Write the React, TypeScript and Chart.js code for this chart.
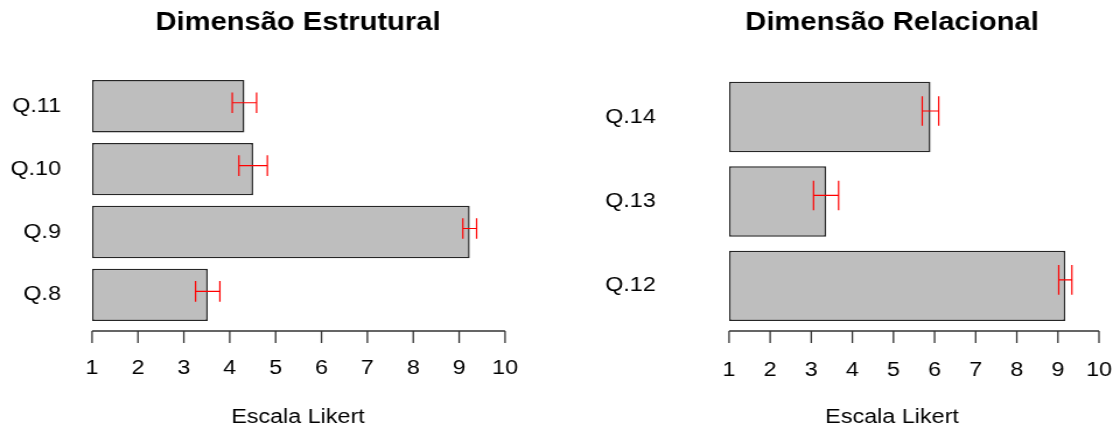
import React, { useEffect, useRef } from 'react';
import { Chart, registerables } from 'chart.js';

Chart.register(...registerables);

// ---- data ----
const XMIN = 1;
const XMAX = 10;
const xTickValues = [1, 2, 3, 4, 5, 6, 7, 8, 9, 10];
const axisTitle = 'Escala Likert';

const titleEstrutural = 'Dimensão Estrutural';
const catsEstrutural = ['Q.8', 'Q.9', 'Q.10', 'Q.11'];
const meansEstrutural = [3.52, 9.23, 4.51, 4.32];
const errEstrutural = [0.265, 0.15, 0.31, 0.265];

const titleRelacional = 'Dimensão Relacional';
const catsRelacional = ['Q.12', 'Q.13', 'Q.14'];
const meansRelacional = [9.18, 3.36, 5.9];
const errRelacional = [0.16, 0.305, 0.2];

// ---- layout (intrinsic canvas px; canvas is stretched horizontally by CSS) ----
const CW = 480;
const CH = 430;
const CSS_W = 560;
const FONT = '"Liberation Sans", Arial, Helvetica, sans-serif';

type Layout = {
  left: number; right: number; top: number; bottom: number;
  labelGap: number; titleX: number; axisY: number;
  capHalf: number; errOffset: number;
};

const layoutEstrutural: Layout = {
  left: 78.9, right: 432.9, top: 74.8, bottom: 326.3,
  labelGap: 26.6, titleX: 255.4, axisY: 331, capHalf: 10.3, errOffset: -3.5,
};
const layoutRelacional: Layout = {
  left: 144.9, right: 462, top: 72.5, bottom: 328.1,
  labelGap: 62.8, titleX: 284.6, axisY: 331, capHalf: 14.8, errOffset: -6,
};

function Panel(props: {
  title: string; cats: string[]; means: number[]; errs: number[]; layout: Layout;
}) {
  const ref = useRef<HTMLCanvasElement | null>(null);
  useEffect(() => {
    const canvas = ref.current;
    if (!canvas) return;
    const { title, cats, means, errs, layout: L } = props;

    const decor = {
      id: 'decor',
      afterDatasetsDraw(chart: any) {
        const ctx = chart.ctx as CanvasRenderingContext2D;
        const xs = chart.scales.x;
        const meta = chart.getDatasetMeta(0);
        ctx.save();
        // error bars
        ctx.strokeStyle = '#ff0000';
        ctx.lineWidth = 1.2;
        meta.data.forEach((bar: any, i: number) => {
          const y = bar.y + L.errOffset;
          const x0 = xs.getPixelForValue(means[i] - errs[i]);
          const x1 = xs.getPixelForValue(means[i] + errs[i]);
          ctx.beginPath();
          ctx.moveTo(x0, y);
          ctx.lineTo(x1, y);
          ctx.moveTo(x0, y - L.capHalf);
          ctx.lineTo(x0, y + L.capHalf);
          ctx.moveTo(x1, y - L.capHalf);
          ctx.lineTo(x1, y + L.capHalf);
          ctx.stroke();
        });
        // x axis line and ticks
        ctx.strokeStyle = '#333';
        ctx.lineWidth = 1.3;
        ctx.beginPath();
        ctx.moveTo(xs.getPixelForValue(XMIN), L.axisY);
        ctx.lineTo(xs.getPixelForValue(XMAX), L.axisY);
        xTickValues.forEach((t) => {
          const px = xs.getPixelForValue(t);
          ctx.moveTo(px, L.axisY);
          ctx.lineTo(px, L.axisY + 12);
        });
        ctx.stroke();
        // main title
        ctx.fillStyle = '#000';
        ctx.font = `bold 25px ${FONT}`;
        ctx.textAlign = 'center';
        ctx.textBaseline = 'alphabetic';
        ctx.fillText(title, L.titleX, 29.5);
        // x axis title
        ctx.font = `20px ${FONT}`;
        ctx.textBaseline = 'middle';
        ctx.fillText(axisTitle, L.titleX, 417);
        ctx.restore();
      },
    };

    const chart = new Chart(canvas, {
      type: 'bar',
      data: {
        labels: cats,
        datasets: [
          {
            data: means.map((m) => [XMIN, m]) as any,
            backgroundColor: '#bebebe',
            borderColor: '#262626',
            borderWidth: 1.5,
            borderSkipped: false,
            categoryPercentage: 1,
            barPercentage: 1 / 1.2,
          },
        ],
      },
      options: {
        indexAxis: 'y',
        animation: false,
        responsive: false,
        devicePixelRatio: 1,
        events: [],
        layout: {
          padding: { left: 0, right: CW - L.right, top: L.top, bottom: 0 },
        },
        plugins: {
          legend: { display: false },
          tooltip: { enabled: false },
          title: { display: false },
        },
        scales: {
          x: {
            type: 'linear',
            min: XMIN,
            max: XMAX,
            grid: {
              display: true,
              drawOnChartArea: false,
              drawTicks: true,
              tickLength: 30,
              color: 'rgba(0,0,0,0)',
            },
            border: { display: false },
            ticks: {
              stepSize: 1,
              padding: 0,
              color: '#000',
              font: { family: FONT, size: 20 },
            },
            afterFit: (s: any) => {
              s.height = CH - L.bottom;
            },
          },
          y: {
            type: 'category',
            reverse: true,
            grid: { display: false, drawTicks: false },
            border: { display: false },
            ticks: {
              padding: L.labelGap,
              color: '#000',
              font: { family: FONT, size: 20 },
            },
            afterFit: (s: any) => {
              s.width = L.left;
            },
          },
        },
      },
      plugins: [decor],
    });
    return () => chart.destroy();
  }, []);
  return (
    <canvas
      ref={ref}
      width={CW}
      height={CH}
      style={{ width: CSS_W, height: CH, display: 'block' }}
    />
  );
}

export default function App() {
  return (
    <div
      style={{
        position: 'fixed', left: 0, top: 0, width: 1120, height: 430,
        display: 'flex', background: '#fff', overflow: 'hidden',
      }}
    >
      <Panel title={titleEstrutural} cats={catsEstrutural} means={meansEstrutural} errs={errEstrutural} layout={layoutEstrutural} />
      <Panel title={titleRelacional} cats={catsRelacional} means={meansRelacional} errs={errRelacional} layout={layoutRelacional} />
    </div>
  );
}
